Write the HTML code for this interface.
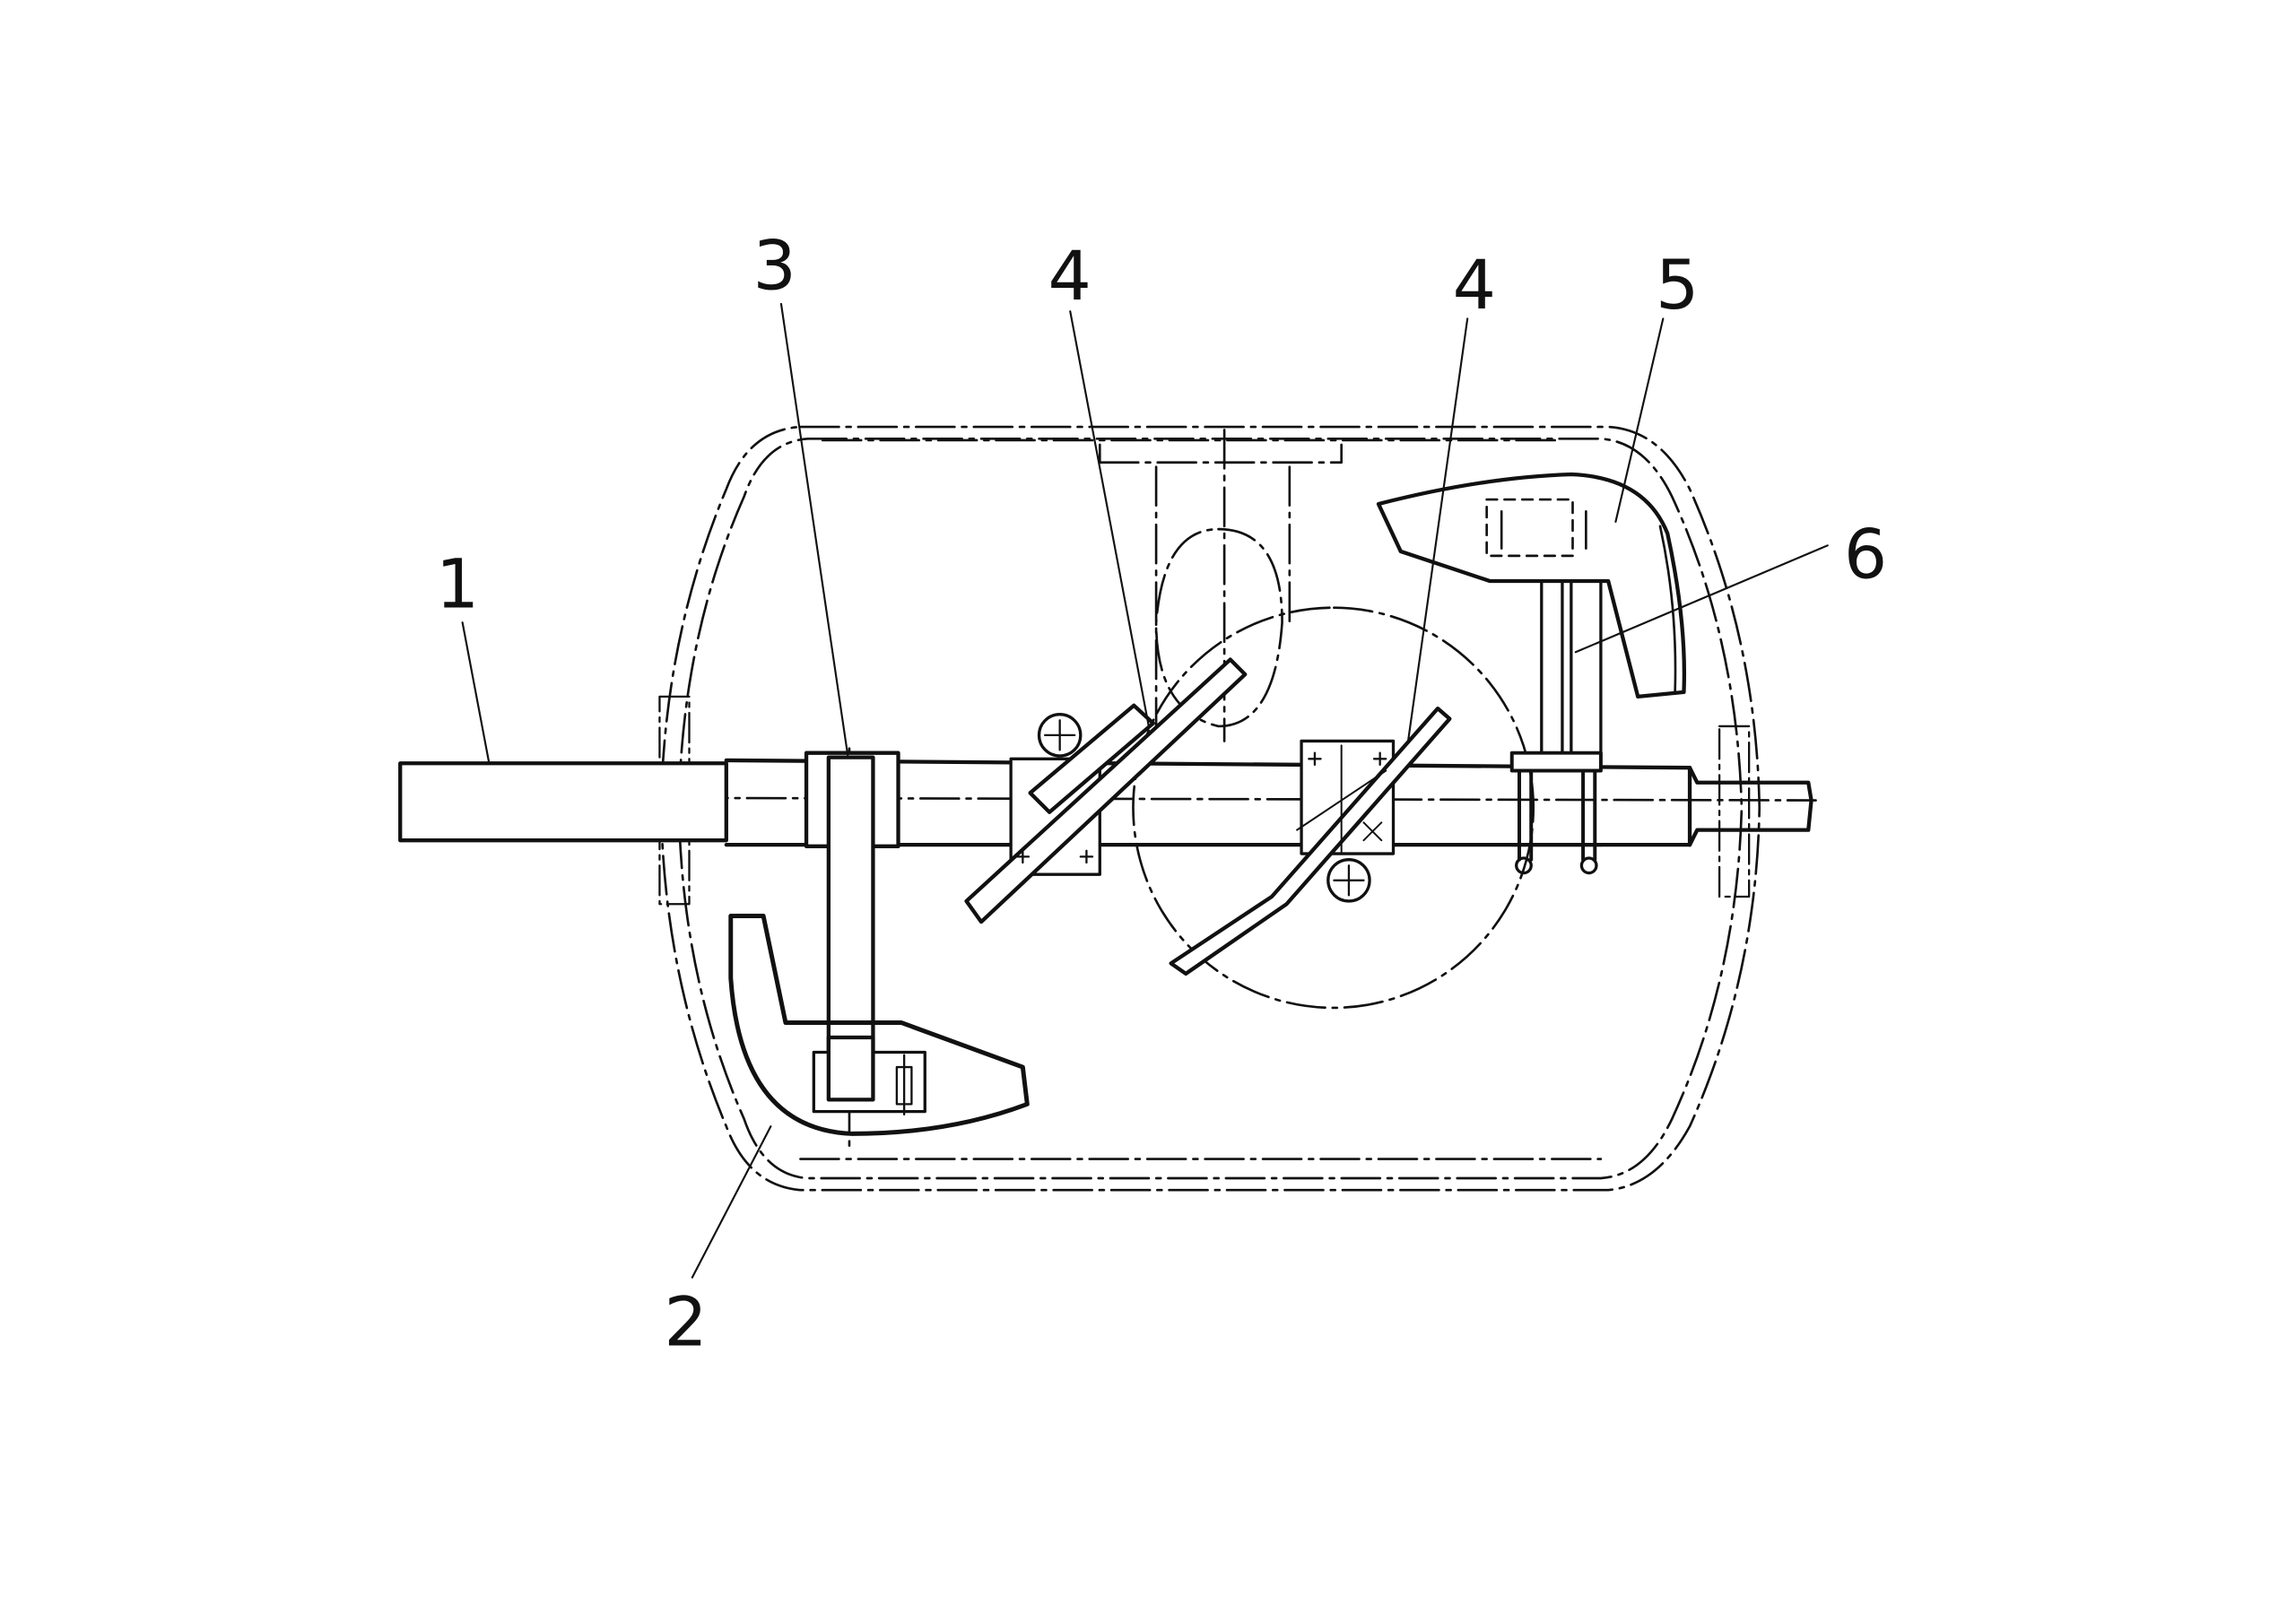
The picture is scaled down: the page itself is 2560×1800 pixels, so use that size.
<!DOCTYPE html>
<html><head><meta charset="utf-8"><style>
html,body{margin:0;padding:0;background:#fff;}
svg{display:block;}
text{font-family:"DejaVu Sans","Liberation Sans",sans-serif;font-size:46px;fill:#111;}
</style></head><body>
<svg width="2560" height="1800" viewBox="0 0 1549 1089" xmlns="http://www.w3.org/2000/svg">
<rect width="1549" height="1089" fill="#fff"/>
<g fill="none" stroke="#111" stroke-linecap="round" stroke-linejoin="round">
<g stroke-width="1.6" stroke-dasharray="26,5,3,5">
<path d="M540,288 L1085,288 Q1120,290 1140,330 Q1185,430 1187,545 Q1185,660 1140,760 Q1118,800 1085,803 L540,803 Q505,800 490,760 Q448,660 446,545 Q448,430 490,330 Q505,290 540,288 Z"/>
<path d="M545,296 L1080,296 Q1110,298 1128,335 Q1172,430 1175,545 Q1172,660 1128,755 Q1110,793 1080,795 L545,795 Q515,793 502,755 Q460,660 458,545 Q460,430 502,335 Q515,298 545,296 Z"/>
<path d="M555,297 L1050,297"/>
<path d="M540,782 L1080,782"/>
<path d="M742,312 L905,312 M742,300 L742,312 M905,300 L905,312"/>
<path d="M780,315 L780,500 M870,315 L870,420 M826,290 L826,500"/>
<path d="M900,410 A135,135 0 1 1 899,410"/>
<path d="M822,357 Q865,357 865,420 Q860,490 822,490 Q780,480 780,420 Q785,357 822,357 Z"/>
<path d="M270,538 L1225,540"/>
<path d="M573,505 L573,778"/>
</g>
<g stroke-width="1.4" stroke-dasharray="20,4,3,4">
<rect x="445" y="470" width="20" height="140"/>
<rect x="1160" y="490" width="20" height="115"/>
</g>
<g stroke-width="2.6">
<path d="M270,515 L490,515 L490,567 L270,567 Z" fill="#fff"/>
<path d="M490,513 L1140,518 M490,570 L1140,570"/>
<path d="M1140,518 L1145,528 L1220,528 L1222,540 L1220,560 L1145,560 L1140,570"/>
<path d="M1140,518 L1140,570"/>
<rect x="544" y="508" width="62" height="63" fill="#fff"/>
<rect x="559" y="511" width="30" height="230" fill="#fff"/>
<path d="M493,618 L515,618 L530,690 L608,690 L690,720 L693,745 Q640,765 575,765 Q500,762 493,660 Z" stroke-width="3"/>
<rect x="549" y="710" width="75" height="40" fill="#fff" stroke-width="2"/>
<rect x="559" y="700" width="30" height="42" fill="#fff" stroke-width="2.6"/>
<path d="M605,720 L615,720 L615,745 L605,745 Z M610,712 L610,752" stroke-width="1.4"/>
<rect x="682" y="512" width="60" height="78" fill="#fff" stroke-width="2"/>
<path d="M652,608 L830,445 L840,455 L662,622 Z" fill="#fff"/>
<path d="M695,535 L765,476 L778,488 L708,548 Z" fill="#fff"/>
<circle cx="715" cy="496" r="14" fill="#fff" stroke-width="2"/>
<path d="M715,486 L715,506 M705,496 L725,496" stroke-width="1.4"/>
<path d="M686,578 L694,578 M690,574 L690,582 M729,578 L737,578 M733,574 L733,582" stroke-width="1.4"/>
<rect x="878" y="500" width="62" height="76" fill="#fff" stroke-width="2"/>
<path d="M790,650 L858,605 L970,478 L978,485 L868,610 L800,657 Z" fill="#fff"/>
<circle cx="910" cy="594" r="14" fill="#fff" stroke-width="2"/>
<path d="M910,584 L910,604 M900,594 L920,594" stroke-width="1.4"/>
<path d="M883,512 L891,512 M887,508 L887,516 M927,512 L935,512 M931,508 L931,516" stroke-width="1.4"/>
<path d="M905,503 L905,575 M875,560 L935,520 M920,555 L932,567 M932,555 L920,567" stroke-width="1.2"/>
<path d="M930,340 Q1000,322 1060,320 Q1110,322 1125,360 Q1138,420 1136,467 L1105,470 L1085,392 L1005,392 L945,372 Z" fill="#fff" stroke-width="2.6"/>
<path d="M1120,355 Q1132,410 1130,468" stroke-width="1.6"/>
<rect x="1003" y="337" width="58" height="38" stroke-dasharray="7,5" stroke-width="1.6"/>
<path d="M1013,345 L1013,370 M1070,345 L1070,370" stroke-width="1.6"/>
<path d="M1040,392 L1040,512 M1080,392 L1080,512 M1054,392 L1054,512 M1060,392 L1060,512" stroke-width="2"/>
<rect x="1020" y="508" width="60" height="12" fill="#fff" stroke-width="2.4"/>
<path d="M1025,520 L1025,580 M1033,520 L1033,580 M1068,520 L1068,580 M1076,520 L1076,580" stroke-width="2.4"/>
<path d="M1020,570 L1080,570" stroke-width="2.4"/>
<circle cx="1028" cy="584" r="5" stroke-width="2"/><circle cx="1072" cy="584" r="5" stroke-width="2"/>
</g>
<g stroke-width="1.3">
<path d="M312,420 L330,515"/>
<path d="M527,205 L572,510"/>
<path d="M722,210 L775,490"/>
<path d="M990,215 L950,500"/>
<path d="M1122,215 L1090,352"/>
<path d="M1233,368 L1063,440"/>
<path d="M467,862 L520,760"/>
</g>
</g>
<text x="294" y="410">1</text>
<text x="508" y="195">3</text>
<text x="707" y="202">4</text>
<text x="980" y="208">4</text>
<text x="1117" y="208">5</text>
<text x="1244" y="390">6</text>
<text x="448" y="908">2</text>
</svg>
</body></html>
